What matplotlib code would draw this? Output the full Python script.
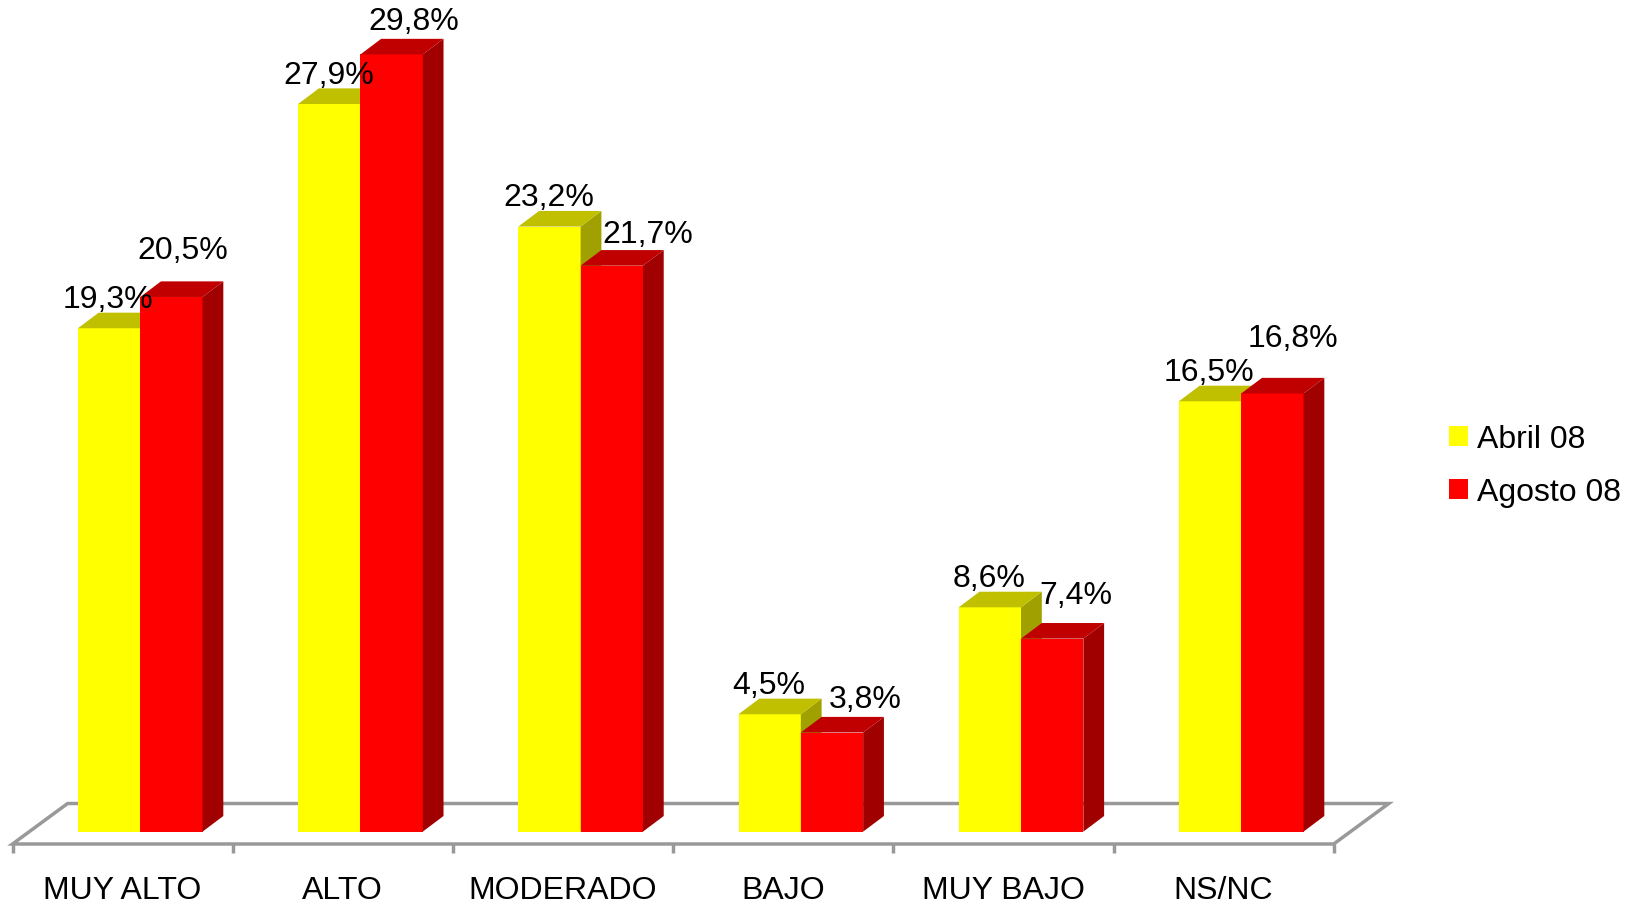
import matplotlib
matplotlib.use("Agg")
import matplotlib.pyplot as plt
from matplotlib.patches import Polygon, Patch

plt.rcParams['font.family'] = ['Liberation Sans', 'DejaVu Sans']

categories = ["MUY ALTO", "ALTO", "MODERADO", "BAJO", "MUY BAJO", "NS/NC"]
series_names = ["Abril 08", "Agosto 08"]
abril = [19.3, 27.9, 23.2, 4.5, 8.6, 16.5]
agosto = [20.5, 29.8, 21.7, 3.8, 7.4, 16.8]

# styling / placement (not data)
front_colors = ["#FFFF00", "#FF0000"]
top_colors = ["#C0C000", "#C00000"]
side_colors = ["#A0A000", "#A00000"]
red_label_dx = [11, 21, 35, 32, 23, 20]     # pixel nudges for Excel-placed labels
red_label_dy = [30, 17, 15, 17, 27, 38]

FS = 23

W, H = 1630, 907
fig = plt.figure(figsize=(W / 100, H / 100), dpi=100)
ax = fig.add_axes([0, 0, 1, 1])
ax.set_xlim(-0.0568, 7.3456)
ax.set_ylim(-2.891, 31.887)
ax.axis("off")

DX, DY = 0.0944, 0.598   # depth offsets
BW = 0.283               # bar width
X0 = 0.297               # first bar offset in category
n = len(categories)

# floor
floor_front, floor_back = -0.475, 1.077
floor_shift = 0.250
floor = Polygon([(0, floor_front), (n, floor_front),
                 (n + floor_shift, floor_back), (floor_shift, floor_back)],
                closed=True, facecolor="white", edgecolor="#999999", lw=2.5, zorder=1)
ax.add_patch(floor)
for i in range(n + 1):
    ax.plot([i, i], [floor_front, -0.82], color="#999999", lw=2.5, zorder=1,
            solid_capstyle="butt")

def draw_bar(x, h, k, z):
    ax.bar(x, h, width=BW, align="edge", color=front_colors[k], lw=0, zorder=z)
    side = Polygon([(x + BW, 0), (x + BW + DX, DY), (x + BW + DX, h + DY), (x + BW, h)],
                   closed=True, facecolor=side_colors[k], lw=0, zorder=z)
    top = Polygon([(x, h), (x + DX, h + DY), (x + BW + DX, h + DY), (x + BW, h)],
                  closed=True, facecolor=top_colors[k], lw=0, zorder=z)
    ax.add_patch(side)
    ax.add_patch(top)

for i in range(n):
    xa = i + X0
    xb = i + X0 + BW
    draw_bar(xa, abril[i], 0, 2 + 2 * i)
    draw_bar(xb, agosto[i], 1, 3 + 2 * i)
    ax.annotate(f"{abril[i]:.1f}".replace(".", ",") + "%",
                (xa + BW / 2, abril[i] + DY), xytext=(-1, 12.5),
                textcoords="offset pixels", ha="center", va="center",
                fontsize=FS, zorder=30)
    ax.annotate(f"{agosto[i]:.1f}".replace(".", ",") + "%",
                (xb + BW / 2, agosto[i] + DY),
                xytext=(red_label_dx[i] * 1.04, red_label_dy[i] * 1.04 - 1),
                textcoords="offset pixels", ha="center", va="center",
                fontsize=FS, zorder=30)
    ax.text(i + 0.5, -2.28, categories[i], ha="center", va="center", fontsize=FS)

handles = [Patch(facecolor=front_colors[k], edgecolor="none") for k in range(2)]
ax.legend(handles, series_names, loc="center left", bbox_to_anchor=(0.889, 0.486),
          frameon=False, fontsize=FS, handlelength=0.58, handleheight=0.58,
          handletextpad=0.3, labelspacing=0.72, borderpad=0, borderaxespad=0)

fig.savefig("out.png", dpi=100)
